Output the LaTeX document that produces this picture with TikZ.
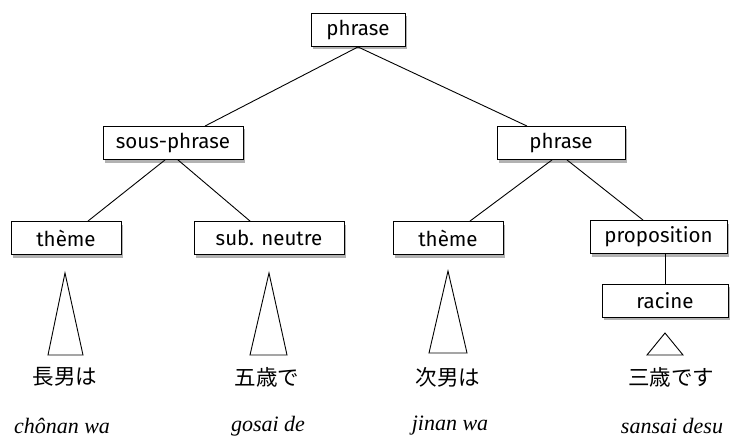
\documentclass[tikz,border=0pt]{standalone}
\usepackage{fontspec}
\setsansfont{Fira Sans}
\newfontfamily\jpfont{Noto Sans CJK JP}
\newfontfamily\romfont{Liberation Serif}
\usetikzlibrary{shadows}

\begin{document}
\begin{tikzpicture}[x=1pt, y=-1pt]
	\tikzstyle{box}  = [draw=black, fill=white, line width=0.9pt, minimum height=33pt, inner sep=0pt, font=\sffamily\fontsize{20.5}{20.5}\selectfont, drop shadow={shadow xshift=2pt, shadow yshift=-3pt, fill=black, opacity=0.3}]
	\tikzstyle{link} = [line width=0.9pt]

	\useasboundingbox (0,0) rectangle (736,441);

	\foreach \name/\x/\y/\w/\text in {phr/358/30/94/phrase, sp/173/143/140/sous-phrase, ph2/561/143/128/phrase, th1/66/238/110/thème, sn/269/238/150/sub. neutre, th2/448/238/110/thème, prop/658.5/237/137/proposition, rac/665/300.5/126/racine}
		\node[box, minimum width=\w*1pt] (\name) at (\x, \y) {\text};

	\foreach \from/\to/\a/\b in {phr/sp/0/32, phr/ph2/0/-34, sp/th1/-8/22, sp/sn/5/-19, ph2/th2/-9/22, ph2/prop/6/-15.5, prop/rac/6.5/0}
		\draw[link] ([xshift=\a*1pt]\from.south) -- ([xshift=\b*1pt]\to.north);

	\foreach \ax/\ay/\l/\r/\by in {65/273/48/83/355, 269/273/250/287/355, 448/271/429/467/353, 665/333/647/683/355}
		\draw[link] (\ax, \ay) -- (\l, \by) -- (\r, \by) -- cycle;

	\foreach \name/\jx/\jp/\rx/\ro in {a/65/長男は/62/chônan wa, b/267/五歳で/268/gosai de, c/448/次男は/450/jinan wa, d/671/三歳です/672/sansai desu}
	{
		\node[font=\jpfont\fontsize{21.5}{21.5}\selectfont] (jp\name) at (\jx, 377) {\jp};
		\node[font=\romfont\itshape\fontsize{22}{22}\selectfont] (ro\name) at (\rx, 426) {\ro};
	}
\end{tikzpicture}
\end{document}
